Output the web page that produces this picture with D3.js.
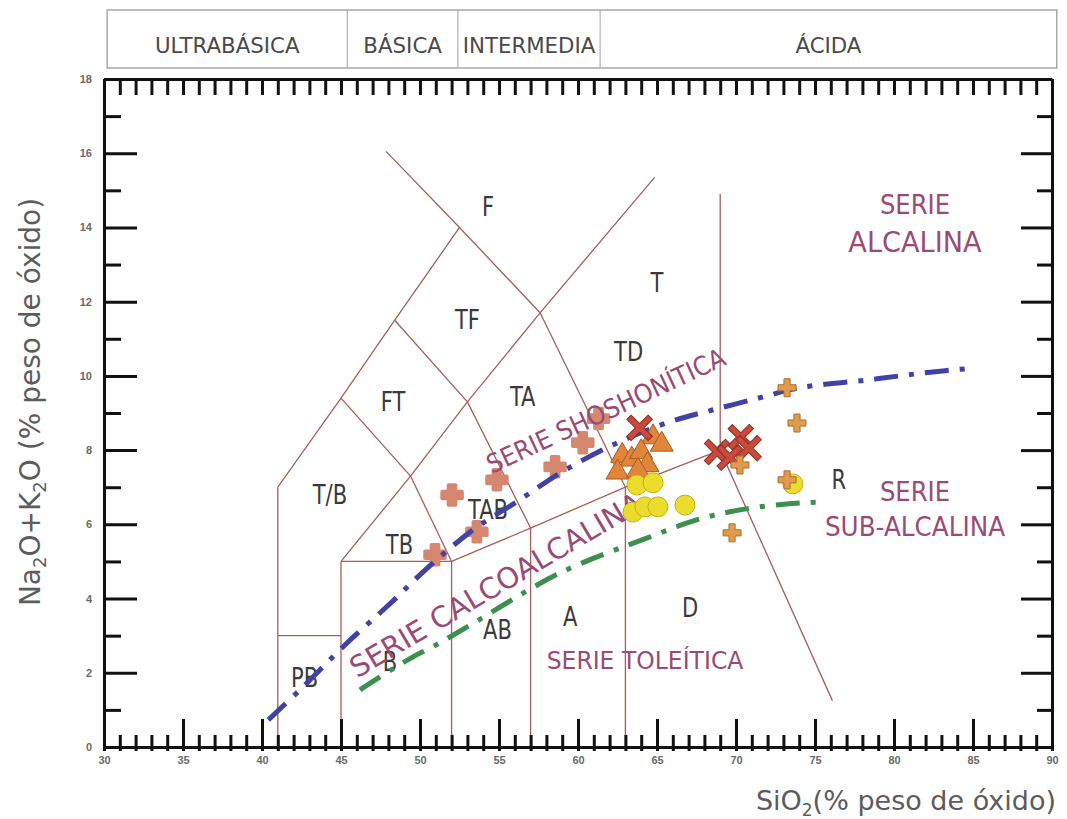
<!DOCTYPE html>
<html><head><meta charset="utf-8">
<script src="https://cdn.jsdelivr.net/npm/d3@7"></script>
<style>
html,body{margin:0;padding:0;background:#fff;}
svg{display:block;}
</style></head>
<body>
<svg id="chart" width="1067" height="819"></svg>
<script>
// ---------- DATA ----------
const xTickLabels = [30,35,40,45,50,55,60,65,70,75,80,85,90];
const yTickLabels = [0,2,4,6,8,10,12,14,16,18];

const headerNames = ["ULTRABÁSICA","BÁSICA","INTERMEDIA","ÁCIDA"];
const headerBounds = [30.2, 45.4, 52.4, 61.4, 90.3];   // SiO2 limits of the header boxes

// TAS field boundaries (SiO2, Na2O+K2O)
const tasLines = [
  [[41,0],[41,7]],
  [[41,3],[45,3]],
  [[45,0],[45,5]],
  [[45,5],[52,5]],
  [[52,0],[52,5]],
  [[57,0],[57,5.9]],
  [[63,0],[63,7]],
  [[52,5],[57,5.9],[63,7],[69,8]],
  [[69,8],[69,14.9]],
  [[69,8],[76.1,1.25]],
  [[41,7],[45,9.4],[48.4,11.5],[52.5,14]],
  [[45,5],[49.4,7.3],[53,9.3],[57.6,11.7],[64.85,15.35]],
  [[49.4,7.3],[52,5]],
  [[45,9.4],[49.4,7.3]],
  [[48.4,11.5],[53,9.3]],
  [[53,9.3],[57,5.9]],
  [[57.6,11.7],[63,7]],
  [[47.85,16.05],[52.5,14],[57.6,11.7]]
];

const fieldNames = ["F","TF","T","TD","FT","TA","T/B","TAB","TB","PB","B","AB","A","D","R"];
const fieldX     = [54.3,53.0,65.0,63.2,48.3,56.5,44.3,54.3,48.7,42.7,48.1,54.9,59.5,67.1,76.5];
const fieldY     = [14.55,11.5,12.5,10.65,9.3,9.43,6.79,6.39,5.44,1.86,2.29,3.15,3.5,3.75,7.2];

// alkaline / subalkaline divide (blue) and tholeiitic / calc-alkaline divide (green)
const alkalineX = [40.4,42.4,45.25,48.2,50.2,53.35,56.1,58.9,62.2,65.8,68.5,71.5,74.05,78.5,82.3,84.8];
const alkalineY = [0.73,1.54,2.75,3.9,4.72,5.85,6.6,7.39,8.14,8.76,9.08,9.41,9.68,9.9,10.1,10.2];
const calcX = [46.2,47.47,49.56,50.8,53.2,58.86,64.56,67.5,70.25,73.2,75.5];
const calcY = [1.54,1.89,2.43,2.7,3.29,4.69,5.66,6.12,6.39,6.55,6.6];

// samples
const quatrefoilX = [50.95,52.03,53.6,54.87,58.55,60.3,61.3];
const quatrefoilY = [5.18,6.79,5.8,7.2,7.55,8.2,8.85];
const triangleX = [64.75,65.3,62.8,63.4,64.0,64.4,62.5,63.8];
const triangleY = [8.35,8.15,7.85,7.75,7.95,7.6,7.4,7.45];
const asteriskX = [63.9,68.8,69.6,70.3,70.8];
const asteriskY = [8.6,7.95,7.8,8.35,8.05];
const circleX = [63.73,64.75,63.48,64.24,65.06,66.77,73.6];
const circleY = [7.06,7.12,6.33,6.47,6.47,6.52,7.09];
const plusX = [73.23,73.86,70.25,73.23,69.75];
const plusY = [9.68,8.73,7.6,7.2,5.77];

// ---------- CHART ----------
const svg = d3.select("#chart");
const x = d3.scaleLinear().domain([30,90]).range([104,1052]);
const y = d3.scaleLinear().domain([0,18]).range([747,79]);
const lineColor = "#a3605a";
const seriesColor = "#9a4a74";
const font = "'DejaVu Sans', sans-serif";

// header boxes
const hdr = svg.append("g");
const hTop = 10, hBot = 68;
hdr.append("rect").attr("x", x(headerBounds[0])).attr("y", hTop)
  .attr("width", x(headerBounds[4]) - x(headerBounds[0])).attr("height", hBot - hTop)
  .attr("fill","none").attr("stroke","#a8a8a8").attr("stroke-width",1.5);
hdr.selectAll("line.sep").data(headerBounds.slice(1,4)).join("line")
  .attr("x1", d => x(d)).attr("x2", d => x(d)).attr("y1", hTop).attr("y2", hBot)
  .attr("stroke","#b0b0b0").attr("stroke-width",1.2);
hdr.selectAll("text").data(headerNames).join("text")
  .attr("text-anchor","middle")
  .attr("font-family", font).attr("font-size", 22).attr("fill","#4a4a4a")
  .attr("transform", (d,i) => { const cx = (x(headerBounds[i]) + x(headerBounds[i+1]))/2; return `translate(${cx},53) scale(0.97,1)`; })
  .text(d => d);

// TAS boundaries
const lineGen = d3.line().x(d => x(d[0])).y(d => y(d[1]));
svg.append("g").selectAll("path").data(tasLines).join("path")
  .attr("d", lineGen).attr("fill","none").attr("stroke", lineColor).attr("stroke-width",1.3);

// field labels
svg.append("g").selectAll("text").data(fieldNames).join("text")
  .attr("text-anchor","middle").attr("dominant-baseline","central")
  .attr("font-family", font).attr("font-size", 27).attr("fill","#3a3a3a")
  .attr("transform", (d,i) => `translate(${x(fieldX[i])},${y(fieldY[i])}) scale(0.78,1)`)
  .text(d => d);

// series labels
function seriesText(txt, cx, cy, size, rot, sx){
  svg.append("text").attr("text-anchor","middle").attr("dominant-baseline","central")
    .attr("font-family", font).attr("font-size", size).attr("fill", seriesColor)
    .attr("transform", `translate(${cx},${cy}) rotate(${rot||0}) scale(${sx||0.92},1)`)
    .text(txt);
}
seriesText("SERIE", 915, 205, 27, 0, 0.9);
seriesText("ALCALINA", 915, 242, 28, 0, 0.97);
seriesText("SERIE", 915, 492, 27, 0, 0.9);
seriesText("SUB-ALCALINA", 915, 527, 26, 0, 0.95);
seriesText("SERIE TOLEÍTICA", 645, 660, 25, 0, 0.94);

// custom symbols
const crossType = ratio => ({ draw(ctx, h){ const w = h*ratio;
  ctx.moveTo(-w,-h); ctx.lineTo(w,-h); ctx.lineTo(w,-w); ctx.lineTo(h,-w); ctx.lineTo(h,w);
  ctx.lineTo(w,w); ctx.lineTo(w,h); ctx.lineTo(-w,h); ctx.lineTo(-w,w); ctx.lineTo(-h,w);
  ctx.lineTo(-h,-w); ctx.lineTo(-w,-w); ctx.closePath(); }});

// quatrefoil samples (under the curves)
svg.append("g").selectAll("path").data(quatrefoilX).join("path")
  .attr("d", d3.symbol().type(crossType(0.36)).size(10))
  .attr("transform", (d,i) => `translate(${x(d)},${y(quatrefoilY[i])})`)
  .attr("fill","#d6876f").attr("stroke","#d6876f").attr("stroke-width",3.5).attr("stroke-linejoin","round");

seriesText("SERIE SHOSHONÍTICA", 606, 411, 26, -25, 0.92);
seriesText("SERIE CALCOALCALINA", 496, 585, 29, -30.5, 1.0);

// dividing curves
const curveGen = d3.line().x(d => x(d[0])).y(d => y(d[1])).curve(d3.curveCatmullRom);
svg.append("path").datum(alkalineX.map((v,i) => [v, alkalineY[i]]))
  .attr("d", curveGen).attr("fill","none").attr("stroke","#4242a6").attr("stroke-width",5)
  .attr("stroke-dasharray","24,11,5,11");
svg.append("path").datum(calcX.map((v,i) => [v, calcY[i]]))
  .attr("d", curveGen).attr("fill","none").attr("stroke","#3d8f4e").attr("stroke-width",5)
  .attr("stroke-dasharray","24,11,5,11");

// triangles
svg.append("g").selectAll("path").data(triangleX).join("path")
  .attr("d", d3.symbol().type(d3.symbolTriangle).size(230))
  .attr("transform", (d,i) => `translate(${x(d)},${y(triangleY[i])})`)
  .attr("fill","#e0853a").attr("stroke","#a95d25").attr("stroke-width",1);

// circles
svg.append("g").selectAll("circle").data(circleX).join("circle")
  .attr("cx", d => x(d)).attr("cy", (d,i) => y(circleY[i])).attr("r", 10)
  .attr("fill","#ecdc2c").attr("stroke","#c4b01a").attr("stroke-width",1);

// asterisks
svg.append("g").selectAll("path").data(asteriskX).join("path")
  .attr("d", d3.symbol().type(crossType(0.2)).size(15))
  .attr("transform", (d,i) => `translate(${x(d)},${y(asteriskY[i])}) rotate(45)`)
  .attr("fill","#c84a3b").attr("stroke","#8f2c22").attr("stroke-width",1);

// plus
svg.append("g").selectAll("path").data(plusX).join("path")
  .attr("d", d3.symbol().type(crossType(0.34)).size(9))
  .attr("transform", (d,i) => `translate(${x(d)},${y(plusY[i])})`)
  .attr("fill","#e29a4c").attr("stroke","#a8702e").attr("stroke-width",1);

// ---------- AXES ----------
const allX = d3.range(30,91), allY = d3.range(0,19);
const majX = allX.filter(v => v % 5 === 0), minX = allX.filter(v => v % 5 !== 0);
const majY = allY.filter(v => v % 2 === 0), minY = allY.filter(v => v % 2 !== 0);

function styleAxis(g){
  g.select(".domain").attr("stroke","#111").attr("stroke-width",3);
  g.selectAll(".tick line").attr("stroke","#111").attr("stroke-width",3);
  g.selectAll(".tick text").attr("font-family","'Liberation Sans', Arial, sans-serif")
    .attr("font-weight","bold").attr("font-size",11).attr("fill","#6a6a6a");
}
const noLbl = () => "";

// bottom
svg.append("g").attr("transform","translate(0,747)")
  .call(d3.axisBottom(x).tickValues(minX).tickSizeInner(-12).tickSizeOuter(0).tickFormat(noLbl)).call(styleAxis);
svg.append("g").attr("transform","translate(0,747)")
  .call(d3.axisBottom(x).tickValues(allX).tickSizeInner(4).tickSizeOuter(0).tickFormat(noLbl)).call(styleAxis);
svg.append("g").attr("transform","translate(0,747)")
  .call(d3.axisBottom(x).tickValues(majX).tickSizeInner(-28).tickSizeOuter(0).tickPadding(9)
     .tickFormat(d => xTickLabels.includes(d) ? d : "")).call(styleAxis);
// top
svg.append("g").attr("transform","translate(0,79)")
  .call(d3.axisTop(x).tickValues(allX).tickSizeInner(-16).tickSizeOuter(0).tickFormat(noLbl)).call(styleAxis);
// left
svg.append("g").attr("transform","translate(104,0)")
  .call(d3.axisLeft(y).tickValues(minY).tickSizeInner(-17).tickSizeOuter(0).tickFormat(noLbl)).call(styleAxis);
svg.append("g").attr("transform","translate(104,0)")
  .call(d3.axisLeft(y).tickValues(majY).tickSizeInner(-33).tickSizeOuter(0).tickPadding(12)
     .tickFormat(d => yTickLabels.includes(d) ? d : "")).call(styleAxis);
// right
svg.append("g").attr("transform","translate(1052,0)")
  .call(d3.axisRight(y).tickValues(minY).tickSizeInner(-15).tickSizeOuter(0).tickFormat(noLbl)).call(styleAxis);
svg.append("g").attr("transform","translate(1052,0)")
  .call(d3.axisRight(y).tickValues(majY).tickSizeInner(-31).tickSizeOuter(0).tickFormat(noLbl)).call(styleAxis);

// axis titles
const yt = svg.append("text").attr("font-family", font).attr("font-size", 28).attr("fill","#5c5c5c")
  .attr("text-anchor","middle").attr("transform","translate(40,402) rotate(-90)");
yt.append("tspan").text("Na");
yt.append("tspan").attr("font-size",18).attr("dy",6).text("2");
yt.append("tspan").attr("dy",-6).text("O+K");
yt.append("tspan").attr("font-size",18).attr("dy",6).text("2");
yt.append("tspan").attr("dy",-6).text("O (% peso de óxido)");

const xt = svg.append("text").attr("font-family", font).attr("font-size", 27).attr("fill","#5c5c5c")
  .attr("text-anchor","end").attr("x", 1056).attr("y", 810);
xt.append("tspan").text("SiO");
xt.append("tspan").attr("font-size",17).attr("dy",6).text("2");
xt.append("tspan").attr("dy",-6).text("(% peso de óxido)");
</script>
</body></html>
